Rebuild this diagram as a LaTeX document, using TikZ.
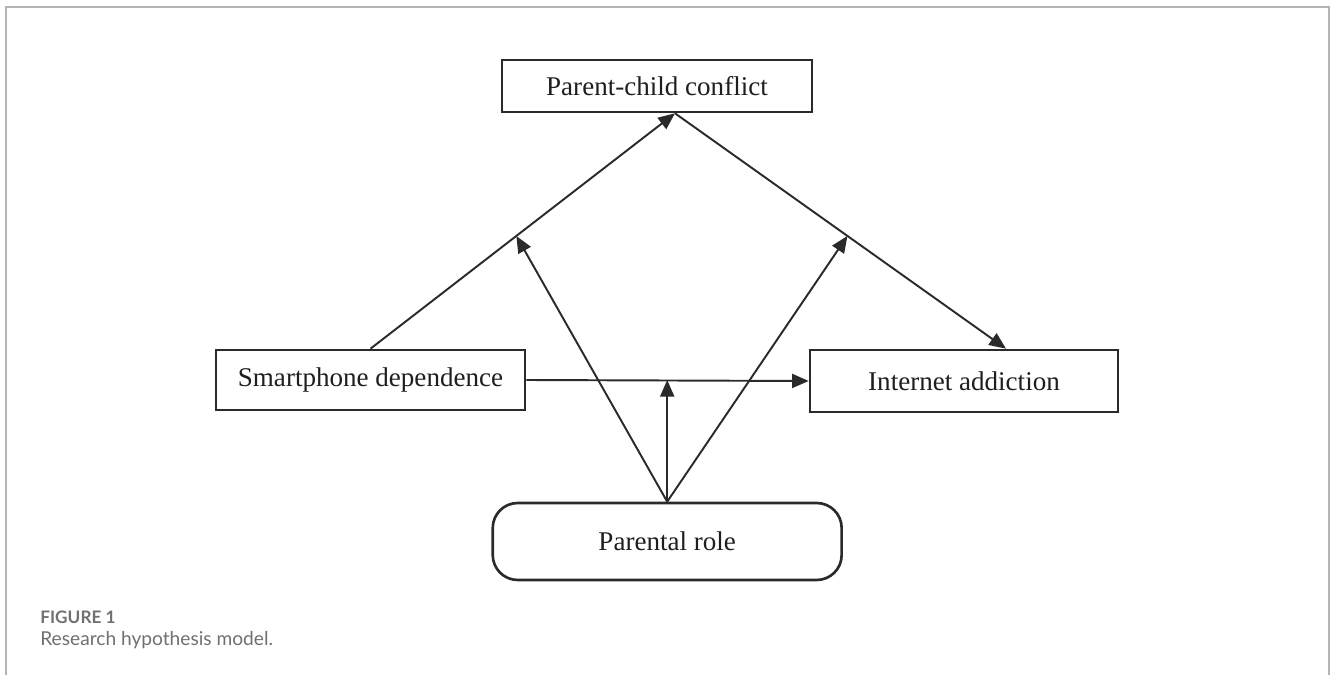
\documentclass[tikz,border=0pt]{standalone}
\usepackage{fontspec}
\setmainfont{Liberation Serif}
\newfontfamily\capfont{Lato}
\usepackage{tikz}
\usetikzlibrary{arrows.meta,calc,positioning}
\definecolor{linegray}{HTML}{2A2A2A}
\definecolor{framegray}{HTML}{B4B4B4}
\definecolor{capgray}{HTML}{707070}

\begin{document}
\begin{tikzpicture}[x=0.02cm,y=-0.02cm,
  varbox/.style={draw=linegray,line width=1.5pt,fill=white,inner sep=0pt,
    font=\fontsize{15.4}{18}\selectfont,text=black!88},
  path/.style={draw=linegray,line width=1.1pt,
    -{Triangle[length=9.5pt,width=8pt]}}]
\useasboundingbox (0,0) rectangle (1330,675);
% frame of the panel
\draw[framegray,line width=1.1pt] (6,675) -- (6,7) -- (1329,7) -- (1329,675);

% variables
\node[varbox,minimum width=6.2cm,minimum height=1.04cm] (conflict) at (657,86) {Parent-child conflict};
\node[varbox,minimum width=6.18cm,minimum height=1.2cm] (phone) at (370.5,380) {Smartphone dependence};
\node[varbox,minimum width=6.16cm,minimum height=1.24cm] (internet) at (964,381) {Internet addiction};
\node[varbox,rounded corners=0.5cm,minimum width=6.98cm,minimum height=1.54cm] (role) at (667.2,541.5) {Parental role};

% end points of the paths
\coordinate (apex) at ($(conflict.south)+(18,0)$);
\coordinate (intop) at ($(internet.north)+(42,0)$);
\coordinate (leftmid) at ($(phone.north)!0.479!(apex)$);
\coordinate (rightmid) at ($(apex)!0.521!(intop)$);

% paths
\draw[path] (phone.north) -- (apex);
\draw[path] (apex) -- (intop);
\draw[path] (phone.east) -- (internet.west);

% moderating paths
\draw[path] (role.north) -- (leftmid);
\draw[path] (role.north) -- (rightmid);
\draw[path] (role.north) -- (role.north |- phone.east);

% caption
\node[anchor=base west,inner sep=0pt,text=capgray,font=\capfont\fontsize{9.8}{12}\selectfont\bfseries] (figlabel) at (40,624) {FIGURE 1};
\node[anchor=base west,inner sep=0pt,text=capgray,font=\capfont\fontsize{10.9}{12}\selectfont] (figtitle) at (40,646) {Research hypothesis model.};
\end{tikzpicture}
\end{document}
